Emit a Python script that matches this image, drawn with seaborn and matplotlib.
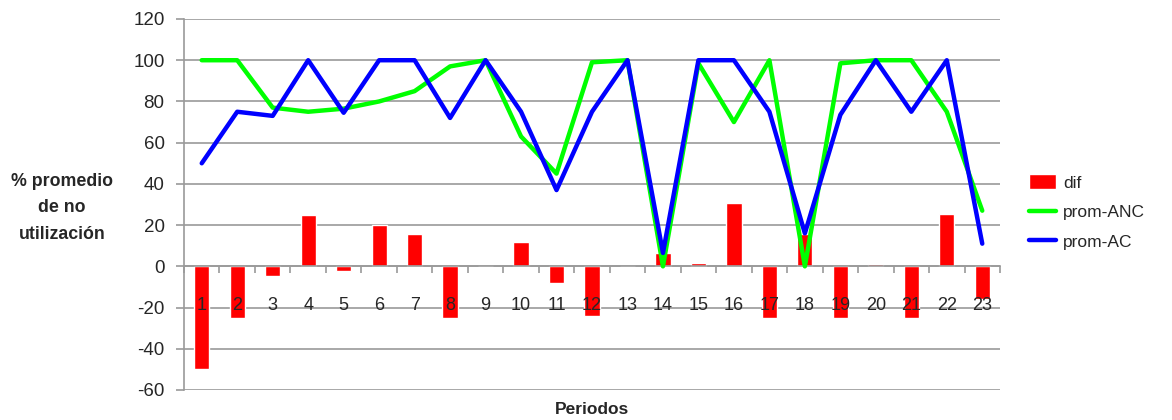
import numpy as np
import pandas as pd
import seaborn as sns
import matplotlib.pyplot as plt
from matplotlib.patches import Patch
from matplotlib.lines import Line2D

# datos
periodos = [str(i) for i in range(1, 24)]
prom_anc = [100, 100, 77, 75, 76.5, 80, 85, 97, 100, 63, 45, 99, 100,
            0, 98.5, 70, 100, 0, 98.5, 100, 100, 75, 27]
prom_ac = [50, 75, 73, 100, 74.5, 100, 100, 72, 100, 75, 37, 75, 100,
           6.5, 100, 100, 75, 16, 73.5, 100, 75, 100, 11]
dif = [-50, -25, -4.5, 25, -2.2, 20, 15.5, -25, 0, 12, -8.3, -24, 0,
       6.5, 1.8, 30.5, -25, 15.5, -25, 1.2, -25, 25.5, -16]

df = pd.DataFrame({'Periodo': periodos, 'pos': np.arange(len(periodos)),
                   'prom_ANC': prom_anc, 'prom_AC': prom_ac, 'dif': dif})

sns.set_style('white')
plt.rcParams['font.family'] = ['Liberation Sans', 'DejaVu Sans']
plt.rcParams['axes.unicode_minus'] = False

fig = plt.figure(figsize=(11.72, 4.2), dpi=100)
ax = fig.add_axes([184 / 1172, 1 - 390 / 420, 816 / 1172, 371 / 420])

sns.barplot(data=df, x='Periodo', y='dif', color='#ff0000', saturation=1,
            width=0.43, ax=ax, zorder=2)
sns.lineplot(data=df, x='pos', y='prom_ANC', color='#00ff00', linewidth=3.2,
             ax=ax, zorder=3)
sns.lineplot(data=df, x='pos', y='prom_AC', color='#0000ff', linewidth=3.2,
             ax=ax, zorder=4)

gris = '#9a9a9a'
ax.set_ylim(-60, 120)
ax.set_yticks(range(-60, 121, 20))
ax.set_xlim(-0.5, len(periodos) - 0.5)
ax.yaxis.grid(True, color=gris, linewidth=1.2)
ax.set_axisbelow(True)
# etiquetas del eje x por encima de las barras
ax.xaxis.set_zorder(6)

ax.set_xticks(df['pos'])
ax.set_xticklabels(periodos)
ax.set_xticks(np.arange(-0.5, len(periodos), 1), minor=True)
ax.spines['bottom'].set_position(('data', 0))
ax.tick_params(axis='x', which='major', bottom=True, length=0, pad=22, labelsize=13)
ax.tick_params(axis='x', which='minor', bottom=True, length=5, width=1.2,
               color=gris, direction='out')
ax.tick_params(axis='y', left=True, length=6, width=1.2, color=gris, pad=8,
               labelsize=13.5)
for lado in ['top', 'right']:
    ax.spines[lado].set_visible(False)
for lado in ['left', 'bottom']:
    ax.spines[lado].set_color(gris)
    ax.spines[lado].set_linewidth(1.2)
ax.set_xlabel('')
ax.set_ylabel('')

fig.text(62 / 1172, 1 - 208 / 420, '% promedio\nde no\nutilización', ha='center',
         va='center', fontsize=12.8, fontweight='bold', linespacing=1.75)
fig.text(592 / 1172, 1 - 409 / 420, 'Periodos', ha='center', va='center',
         fontsize=12.5, fontweight='bold')

handles = [Patch(facecolor='#ff0000', label='dif'),
           Line2D([], [], color='#00ff00', linewidth=3.2, label='prom-ANC'),
           Line2D([], [], color='#0000ff', linewidth=3.2, label='prom-AC')]
fig.legend(handles=handles, loc='center left', bbox_to_anchor=(1013 / 1172, 1 - 212 / 420),
           frameon=False, fontsize=12.5, handlelength=1.55, handleheight=1.0,
           handletextpad=0.45, labelspacing=0.75)

fig.savefig('out.png', dpi=100)
